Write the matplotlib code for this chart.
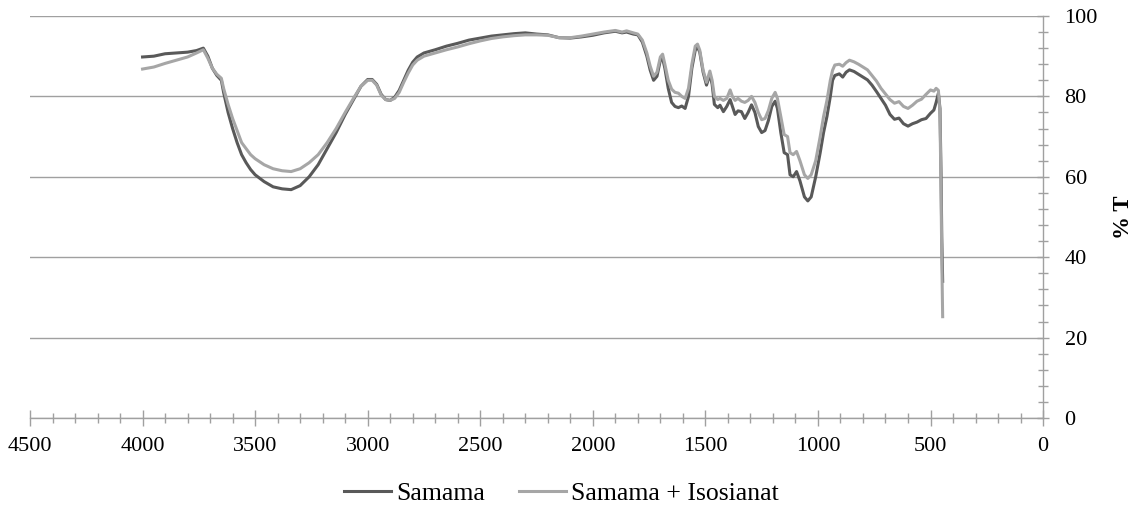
import matplotlib
matplotlib.use("Agg")
import matplotlib.pyplot as plt
from matplotlib.ticker import MultipleLocator

# wavenumbers (cm-1)
wn = [4000, 3950, 3900, 3850, 3800, 3760, 3730, 3710, 3690, 3670, 3650, 3640, 3620, 3600,
      3580, 3560, 3540, 3520, 3500, 3460, 3420, 3380, 3340, 3300, 3260, 3220, 3180, 3140,
      3100, 3060, 3030, 3000, 2980, 2960, 2940, 2920, 2900, 2880, 2860, 2840, 2820, 2800,
      2780, 2750, 2700, 2650, 2600, 2550, 2500, 2450, 2400, 2350, 2300, 2250, 2200, 2150,
      2100, 2050, 2000, 1950, 1900, 1870, 1850, 1820, 1800, 1780, 1760, 1745, 1730, 1715,
      1700, 1690, 1680, 1665, 1650, 1635, 1620, 1605, 1590, 1575, 1560, 1545, 1535, 1525,
      1510, 1495, 1480, 1470, 1460, 1445, 1435, 1420, 1405, 1390, 1380, 1368, 1355, 1340,
      1325, 1310, 1295, 1280, 1265, 1250, 1235, 1220, 1205, 1190, 1180, 1165, 1150, 1135,
      1124, 1110, 1095, 1080, 1060, 1045, 1030, 1010, 990, 975, 960, 945, 935, 925, 905,
      890, 875, 860, 840, 820, 800, 780, 760, 740, 720, 700, 680, 660, 640, 620, 600, 580,
      560, 540, 520, 500, 485, 475, 465, 458, 453, 450, 446]

samama = [89.8, 90.0, 90.6, 90.8, 91.0, 91.4, 92.0, 90.0, 87.0, 85.2, 84.0, 81.0, 76.0, 72.0,
          68.5, 65.5, 63.5, 61.8, 60.5, 58.8, 57.5, 57.0, 56.8, 57.8, 60.0, 63.0, 67.0, 71.0,
          75.5, 79.5, 82.5, 84.2, 84.2, 83.0, 80.5, 79.2, 79.0, 79.8, 81.5, 84.0, 86.5, 88.5,
          89.8, 90.8, 91.6, 92.5, 93.2, 94.0, 94.5, 95.0, 95.3, 95.6, 95.8, 95.5, 95.3, 94.6,
          94.5, 94.8, 95.2, 95.8, 96.2, 95.8, 96.0, 95.5, 95.3, 93.5, 90.0, 86.5, 84.0, 85.0,
          89.0, 89.5, 87.0, 82.0, 78.5, 77.5, 77.2, 77.6, 77.0, 80.0, 87.0, 91.5, 92.3, 91.0,
          86.0, 82.8, 85.5, 83.0, 78.0, 77.2, 77.8, 76.2, 77.5, 79.2, 77.5, 75.5, 76.4, 76.2,
          74.5, 76.0, 77.9, 76.0, 72.5, 71.0, 71.5, 74.0, 77.5, 78.8, 77.0, 71.0, 66.0, 65.5,
          60.5, 60.0, 61.3, 59.0, 55.0, 54.0, 55.0, 60.0, 66.0, 71.0, 75.0, 80.0, 84.0, 85.2, 85.6,
          84.8, 86.0, 86.6, 86.2, 85.5, 84.8, 84.1, 82.8, 81.2, 79.5, 77.8, 75.5, 74.3, 74.6, 73.2,
          72.6, 73.2, 73.6, 74.2, 74.5, 75.8, 76.6, 78.5, 80.8, 77.0, 60.0, 45.0, 34.0]

samama_iso = [86.8, 87.3, 88.2, 89.0, 89.8, 90.8, 91.6, 89.5, 87.0, 85.5, 84.5, 82.0, 78.0, 74.5,
              71.5, 68.5, 67.0, 65.5, 64.5, 63.0, 62.0, 61.5, 61.3, 62.0, 63.5, 65.5, 68.5, 72.0,
              76.0, 79.8, 82.5, 84.0, 84.0, 82.8, 80.3, 79.2, 79.0, 79.5, 81.0, 83.5, 85.8, 87.8,
              89.0, 90.0, 90.8, 91.6, 92.3, 93.1, 93.8, 94.4, 94.8, 95.1, 95.3, 95.3, 95.2, 94.6,
              94.6, 95.0, 95.5, 96.0, 96.4, 96.0, 96.3, 95.8, 95.5, 94.0, 90.8, 87.5, 85.0, 86.0,
              89.8, 90.5, 88.0, 84.0, 81.8, 81.0, 80.8, 80.0, 79.5, 82.0, 88.0, 92.5, 93.0, 91.5,
              86.5, 83.5, 86.3, 84.0, 80.0, 79.2, 79.5, 79.0, 79.5, 81.6, 80.0, 79.0, 79.5, 78.8,
              78.5, 79.0, 80.0, 78.5, 76.0, 74.2, 74.5, 76.5, 79.5, 81.0, 79.5, 75.0, 70.5, 70.0,
              66.0, 65.5, 66.3, 64.0, 60.5, 59.6, 60.5, 64.0, 70.0, 75.0, 79.0, 84.0, 86.5, 87.8, 88.0,
              87.5, 88.4, 89.0, 88.6, 88.0, 87.3, 86.6, 85.2, 83.8, 82.0, 80.6, 79.2, 78.3, 78.7, 77.5,
              77.0, 77.8, 78.8, 79.3, 80.5, 81.6, 81.3, 82.0, 81.5, 76.0, 55.0, 40.0, 25.2]

plt.rcParams['font.family'] = ['Liberation Serif', 'DejaVu Serif']

fig = plt.figure(figsize=(11.36, 5.12), dpi=100)
ax = fig.add_axes([0.0264, 0.1836, 0.8918, 0.7852])

grey = '#a0a0a0'
ax.plot(wn, samama, color='#595959', lw=2.2, label='Samama', zorder=3)
ax.plot(wn, samama_iso, color='#a6a6a6', lw=2.2, label='Samama + Isosianat', zorder=4)

ax.set_xlim(4500, 0)
ax.set_ylim(0, 100)
ax.xaxis.set_major_locator(MultipleLocator(500))
ax.xaxis.set_minor_locator(MultipleLocator(100))
ax.yaxis.set_major_locator(MultipleLocator(20))
ax.yaxis.set_minor_locator(MultipleLocator(4))

ax.yaxis.tick_right()
ax.yaxis.set_label_position('right')
ax.grid(axis='y', which='major', color=grey, lw=1.0, zorder=0)

for side in ['left', 'top']:
    ax.spines[side].set_visible(False)
for side in ['bottom', 'right']:
    ax.spines[side].set_color(grey)
    ax.spines[side].set_linewidth(1.0)

ax.tick_params(axis='x', which='major', direction='inout', length=11, width=1, color=grey,
               labelsize=16, pad=8)
ax.tick_params(axis='x', which='minor', direction='inout', length=6.5, width=1, color=grey)
ax.tick_params(axis='y', which='major', direction='inout', length=9, width=1, color=grey,
               labelsize=16, pad=11)
ax.tick_params(axis='y', which='minor', direction='inout', length=6.5, width=1, color=grey)

ax.set_ylabel('% T', fontsize=16.5, fontweight='bold', rotation=90, labelpad=11)

fig.legend(loc='center', bbox_to_anchor=(0.494, 0.037), ncol=2, frameon=False,
           fontsize=18.5, handlelength=1.83, handletextpad=0.19, columnspacing=1.32)

fig.savefig('out.png', dpi=100)
